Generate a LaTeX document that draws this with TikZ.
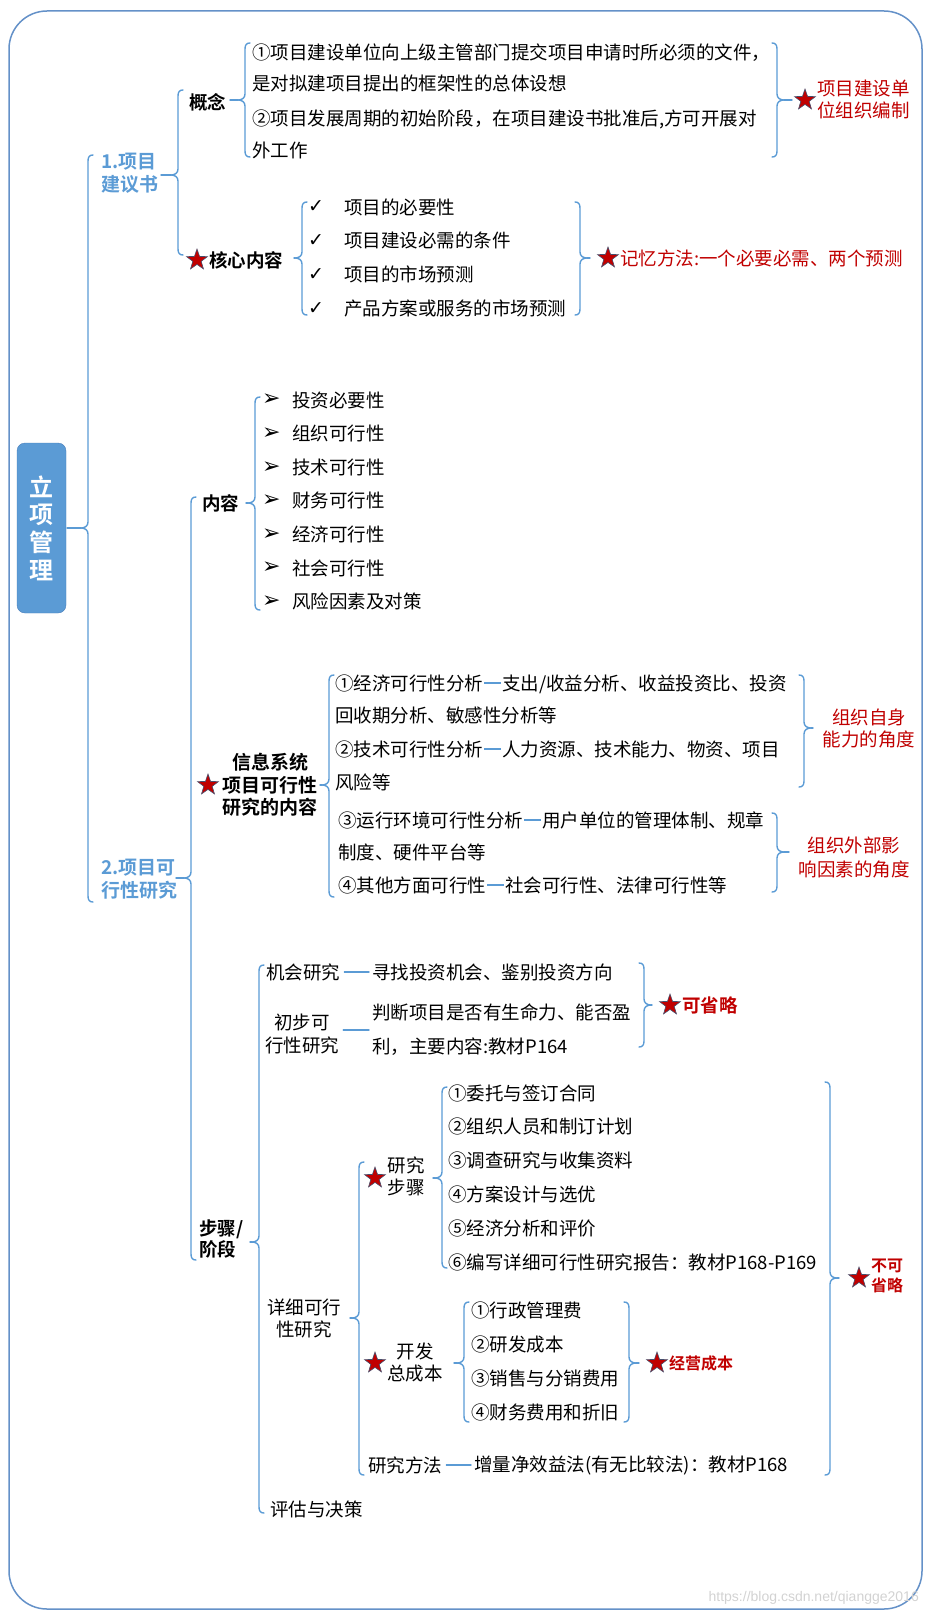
\documentclass[tikz,border=0pt]{standalone}
\usepackage{fontspec}
\setmainfont{Noto Sans CJK SC}[BoldFont={Noto Sans CJK SC Bold}]
\newfontfamily\symf{DejaVu Sans}
\newfontfamily\wmf{Liberation Sans}
\usetikzlibrary{shapes.geometric}
\definecolor{lb}{RGB}{91,155,213}
\definecolor{bord}{RGB}{100,145,200}
\definecolor{boxd}{RGB}{74,126,187}
\definecolor{dred}{RGB}{192,0,0}
\definecolor{stard}{RGB}{70,80,110}
\newcommand{\bdash}{\hspace{1pt}\textcolor{lb}{\rule[6pt]{17pt}{2pt}}\hspace{1pt}}
% left brace: x, ytop, ybot, ymid, tipx
\newcommand{\LBr}[5]{%
  \draw[br] (#1+5,#2) .. controls (#1+1.5,#2) and (#1,#2+2) .. (#1,#2+6) -- (#1,#4-6)
    .. controls (#1,#4-2) and (#1-3,#4) .. (#1-7,#4)
    .. controls (#1-3,#4) and (#1,#4+2) .. (#1,#4+6) -- (#1,#3-6)
    .. controls (#1,#3-2) and (#1+1.5,#3) .. (#1+5,#3);
  \draw[br] (#1-7,#4) -- (#5,#4);}
% right brace: x, ytop, ybot, ymid, tipx
\newcommand{\RBr}[5]{%
  \draw[br] (#1-5,#2) .. controls (#1-1.5,#2) and (#1,#2+2) .. (#1,#2+6) -- (#1,#4-6)
    .. controls (#1,#4-2) and (#1+3,#4) .. (#1+7,#4)
    .. controls (#1+3,#4) and (#1,#4+2) .. (#1,#4+6) -- (#1,#3-6)
    .. controls (#1,#3-2) and (#1-1.5,#3) .. (#1-5,#3);
  \draw[br] (#1+7,#4) -- (#5,#4);}
\tikzset{
  br/.style={draw=lb, line width=1.4pt, line join=round, line cap=round},
  txt/.style={inner sep=0pt, anchor=west, align=left, font=\fontsize{18.5}{33}\selectfont},
  txtc/.style={inner sep=0pt, anchor=center, align=center, font=\fontsize{18.5}{22}\selectfont},
  bld/.style={inner sep=0pt, anchor=west, align=left, font=\fontsize{18.5}{21}\selectfont\bfseries},
  bldc/.style={inner sep=0pt, anchor=center, align=center, font=\fontsize{19}{22.5}\selectfont\bfseries},
  lone/.style={inner sep=0pt, anchor=west, align=left, text=lb, font=\fontsize{19}{23}\selectfont\bfseries},
  rtxt/.style={inner sep=0pt, anchor=west, align=left, text=dred, font=\fontsize{18.5}{22}\selectfont},
  rtxtc/.style={inner sep=0pt, anchor=center, align=center, text=dred, font=\fontsize{18.5}{23}\selectfont},
  rbld/.style={inner sep=0pt, anchor=west, align=left, text=dred, font=\fontsize{18.5}{20}\selectfont\bfseries},
  rbldsm/.style={inner sep=0pt, anchor=west, align=left, text=dred, font=\fontsize{16}{19.5}\selectfont\bfseries},
  rstar/.style={star, star points=5, star point ratio=2.5, minimum size=22pt, inner sep=0pt,
    fill=dred, draw=stard, line width=0.6pt},
  chk/.style={inner sep=0pt, anchor=west, font=\symf\fontsize{19}{19}\selectfont},
  arw/.style={inner sep=0pt, anchor=west, font=\symf\fontsize{22}{22}\selectfont},
  rootbox/.style={draw=boxd, fill=lb, rounded corners=8pt, minimum width=49pt, minimum height=170pt,
    text=white, align=center, inner sep=0pt, font=\fontsize{24}{27.7}\selectfont\bfseries},
  conn/.style={br, shorten <=4pt, shorten >=3pt}
}
\begin{document}
\begin{tikzpicture}[x=1pt,y=-1pt]
\useasboundingbox (0,0) rectangle (925,1616);
\draw[draw=bord, line width=1.5pt, rounded corners=38pt] (9,11) rectangle (922,1609);

% root
\node[rootbox] (root) at (41.5,528) {立\\项\\管\\理};
\LBr{88}{155}{902}{528}{67}

% 1. 项目建议书
\node[lone] (jys) at (101,173) {1.项目\\建议书};
\LBr{178}{90}{255}{175}{161}
\node[bld] (gn) at (189,102) {概念};
\node[rstar] (s1) at (197,260) {};
\node[bld] (hx) at (209,260) {核心内容};

\LBr{245}{43}{157}{100}{230}
\node[txt, font=\fontsize{18.5}{31}\selectfont] (gn1) at (252,67.5) {①项目建设单位向上级主管部门提交项目申请时所必须的文件，\\是对拟建项目提出的框架性的总体设想};
\node[txt, font=\fontsize{18.5}{32}\selectfont] (gn2) at (252,134) {②项目发展周期的初始阶段，在项目建设书批准后,方可开展对\\外工作};
\RBr{777}{43}{157}{100}{792}
\node[rstar] (s2) at (805,100) {};
\node[rtxt] (r1) at (817,99) {项目建设单\\位组织编制};

\LBr{302}{202}{315}{258}{294}
\foreach \t [count=\i from 0] in {项目的必要性,项目建设必需的条件,项目的市场预测,产品方案或服务的市场预测}{
  \node[chk] (ck\i) at (308,207+33.7*\i) {✓};
  \node[txt] (hk\i) at (344,207+33.7*\i) {\t};
}
\RBr{580}{202}{315}{258}{590}
\node[rstar] (s3) at (608,258) {};
\node[rtxt] (r2) at (620,258) {记忆方法:一个必要必需、两个预测};

% 2. 项目可行性研究
\node[lone] (kx) at (101,879) {2.项目可\\行性研究};
\LBr{191}{497}{1260}{878}{176}

\node[bld] (nr) at (202,503) {内容};
\LBr{255}{397}{610}{503}{246}
\foreach \t [count=\i from 0] in {投资必要性,组织可行性,技术可行性,财务可行性,经济可行性,社会可行性,风险因素及对策}{
  \node[arw] (ar\i) at (262,400+33.6*\i) {➢};
  \node[txt] (nt\i) at (292,400+33.6*\i) {\t};
}

\node[rstar] (s4) at (208,785) {};
\node[bldc] (xx) at (270,785) {信息系统\\项目可行性\\研究的内容};
\LBr{329}{675}{897}{785}{320}
\node[txt, font=\fontsize{18.5}{32}\selectfont] (x1) at (335,699) {①经济可行性分析\bdash 支出/收益分析、收益投资比、投资\\回收期分析、敏感性分析等};
\node[txt] (x2) at (335,765.5) {②技术可行性分析\bdash 人力资源、技术能力、物资、项目\\风险等};
\node[txt, font=\fontsize{18.5}{32}\selectfont] (x3) at (338,836) {③运行环境可行性分析\bdash 用户单位的管理体制、规章\\制度、硬件平台等};
\node[txt] (x4) at (338,885) {④其他方面可行性\bdash 社会可行性、法律可行性等};
\RBr{804}{675}{787}{728}{813}
\node[rtxtc, font=\fontsize{18.5}{22}\selectfont] (r3) at (869,729) {组织自身\\能力的角度};
\RBr{777}{813}{892}{852}{789}
\node[rtxtc, font=\fontsize{18.5}{24}\selectfont] (r4) at (854,857) {组织外部影\\响因素的角度};

% 步骤/阶段
\node[bld] (bz) at (199,1239) {步骤/\\阶段};
\LBr{259}{965}{1513}{1242}{250}
\node[txt] (jh) at (266,972) {机会研究};
\node[txt] (jhd) at (372,972) {寻找投资机会、鉴别投资方向};
\draw[conn] (jh) -- (jhd);
\node[txtc, font=\fontsize{18.5}{23}\selectfont] (cb) at (302,1033.5) {初步可\\行性研究};
\node[txt, font=\fontsize{18.5}{34}\selectfont] (cbd) at (372,1030) {判断项目是否有生命力、能否盈\\利，主要内容:教材P164};
\draw[conn] (cb.east |- cbd.west) -- (cbd.west);
\RBr{644}{963}{1047}{1005}{652}
\node[rstar] (s5) at (670,1005) {};
\node[rbld] (ksl) at (682,1005) {可省略};

\node[txtc] (xxk) at (304,1318) {详细可行\\性研究};
\LBr{359}{1162}{1475}{1318}{350}
\node[rstar] (s6) at (375,1178) {};
\node[txtc] (yjbz) at (406,1176) {研究\\步骤};
\LBr{442}{1087}{1268}{1178}{433}
\foreach \t [count=\i from 0] in {①委托与签订合同,②组织人员和制订计划,③调查研究与收集资料,④方案设计与选优,⑤经济分析和评价,⑥编写详细可行性研究报告：教材P168-P169}{
  \node[txt] (bs\i) at (448,1093+33.8*\i) {\t};
}
\node[rstar] (s7) at (375,1363) {};
\node[txtc] (kf) at (415,1362) {开发\\总成本};
\LBr{464}{1302}{1422}{1363}{454}
\foreach \t [count=\i from 0] in {①行政管理费,②研发成本,③销售与分销费用,④财务费用和折旧}{
  \node[txt] (cs\i) at (471,1310+34*\i) {\t};
}
\RBr{629}{1302}{1422}{1363}{639}
\node[rstar] (s8) at (657,1363) {};
\node[rbldsm] (jycb) at (669,1363) {经营成本};

\node[txt] (ff) at (368,1465) {研究方法};
\node[txt] (ffd) at (474,1465) {增量净效益法(有无比较法)：教材P168};
\draw[conn] (ff) -- (ffd);
\RBr{830}{1082}{1475}{1278}{839}
\node[rstar] (s9) at (859,1278) {};
\node[rbldsm] (bksl) at (871,1276) {不可\\省略};

\node[txt] (pg) at (270,1509) {评估与决策};

\node[anchor=east, inner sep=0pt, text=gray!35, font=\wmf\fontsize{14}{14}\selectfont] (wm) at (919,1598) {https://blog.csdn.net/qiangge2016};
\end{tikzpicture}
\end{document}
